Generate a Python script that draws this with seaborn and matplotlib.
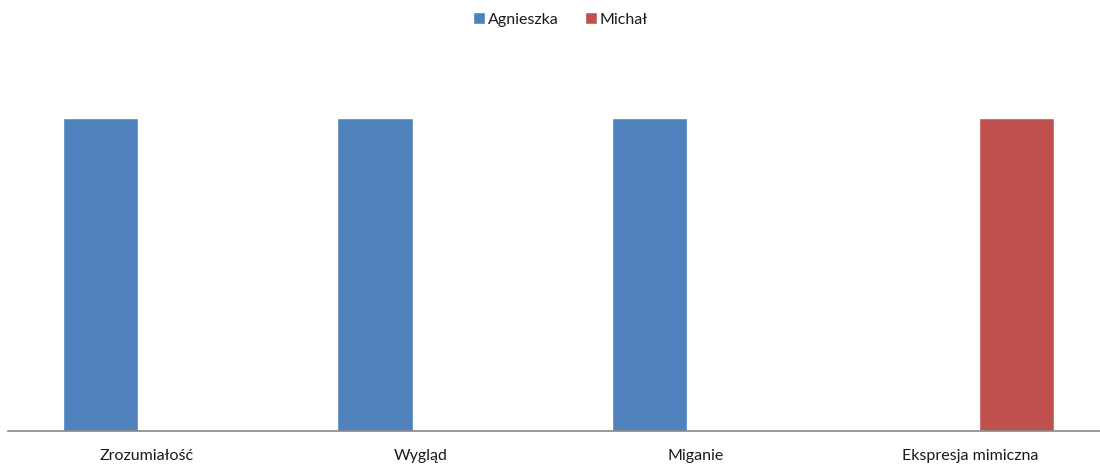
import matplotlib
matplotlib.use("Agg")
import matplotlib.pyplot as plt
import seaborn as sns
import pandas as pd

categories = ["Zrozumiałość", "Wygląd", "Miganie", "Ekspresja mimiczna"]
series = ["Agnieszka", "Michał"]
agnieszka = [1, 1, 1, 0]
michal = [0, 0, 0, 1]
colors = ["#4F81BD", "#C0504D"]

df = pd.DataFrame({
    "category": categories * 2,
    "series": [series[0]] * 4 + [series[1]] * 4,
    "value": agnieszka + michal,
})

sns.set_theme(style="white")
plt.rcParams["font.family"] = ["Lato", "DejaVu Sans"]

fig = plt.figure(figsize=(11, 4.68), dpi=100)
ax = fig.add_axes([8 / 1100, 37 / 468, 1092 / 1100, (431 - 55) / 468])

sns.barplot(data=df, x="category", y="value", hue="series", order=categories,
            hue_order=series, palette=colors, width=0.67, gap=0.18,
            saturation=1, ax=ax, legend=True)

ax.set_xlim(-0.5035, 3.472)
ax.set_ylim(0, 1.2)
ax.set_xlabel("")
ax.set_ylabel("")
ax.set_yticks([])
ax.tick_params(axis="x", length=0, labelsize=11.5, colors="#1a1a1a", pad=13)
for s in ["top", "right", "left"]:
    ax.spines[s].set_visible(False)
ax.spines["bottom"].set_color("#868686")
ax.spines["bottom"].set_linewidth(1.2)

ax.legend(loc="upper center", bbox_to_anchor=(0.506, 1 + 55 / 376 + 0.005),
          ncol=2, frameon=False, fontsize=11.5, handlelength=0.75, handleheight=0.75,
          handletextpad=0.2, columnspacing=1.6, labelcolor="#1a1a1a")

fig.savefig("out.png", dpi=100)
